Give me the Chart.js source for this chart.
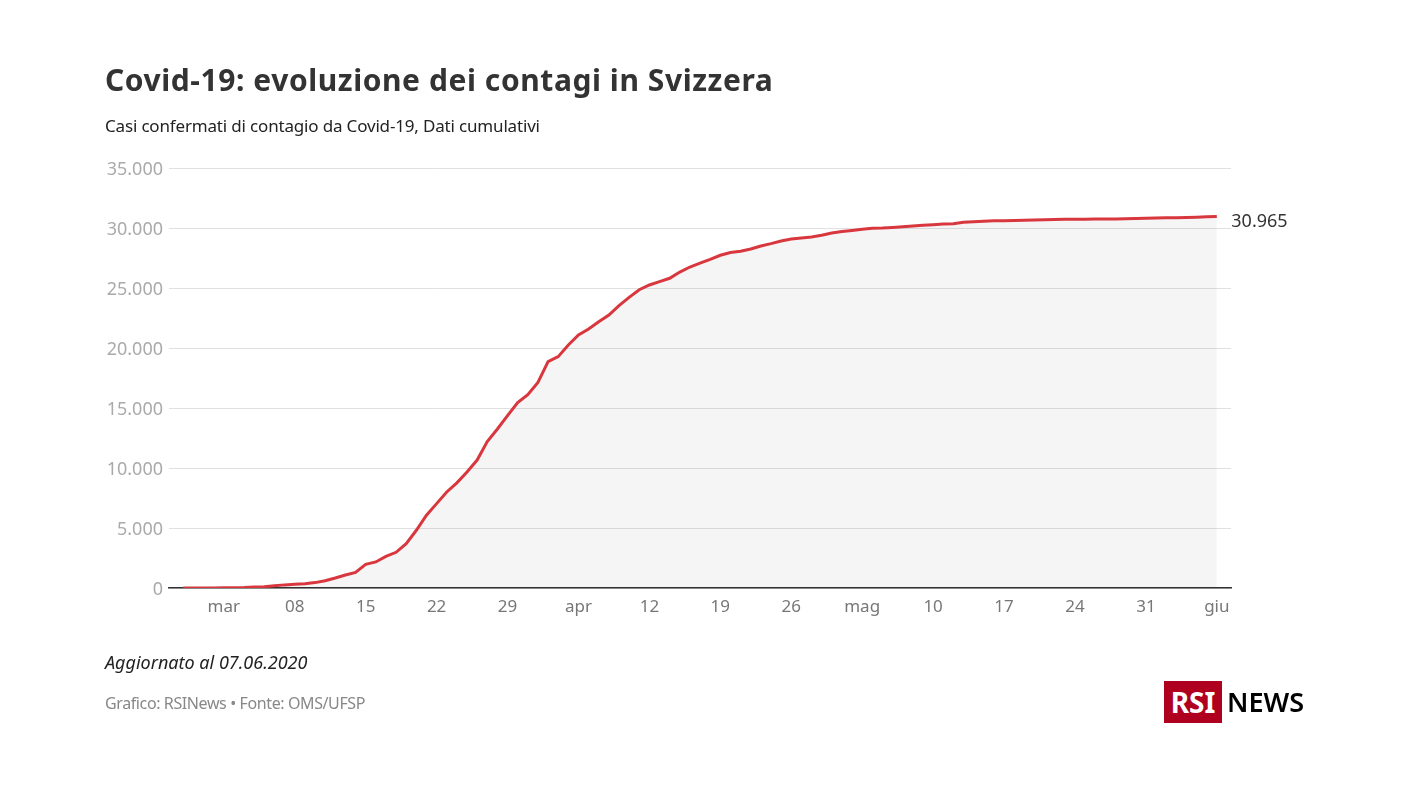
<!DOCTYPE html>
<html lang="it">
<head>
<meta charset="utf-8">
<title>Covid-19: evoluzione dei contagi in Svizzera</title>
<script src="https://cdn.jsdelivr.net/npm/chart.js@4"></script>
<style>
  html, body { margin:0; padding:0; background:#fff; width:1408px; height:792px; overflow:hidden; font-family:"Noto Sans",sans-serif; }
  #wrap { position:absolute; left:0; top:0; width:1408px; height:792px; }
  canvas { position:absolute; left:0; top:0; }
  .t { position:absolute; white-space:nowrap; }
  #title { left:105px; top:60px; line-height:40px; font-size:30px; font-weight:700; color:#333; letter-spacing:0.57px; }
  #sub { left:105px; top:114px; line-height:24px; font-size:17px; color:#222; letter-spacing:-0.17px; }
  #upd { left:105px; top:650px; line-height:24px; font-size:18px; font-style:italic; color:#222; }
  #src { left:105px; top:691px; line-height:24px; font-size:16px; color:#888; letter-spacing:-0.39px; }
  #logo { position:absolute; left:1164px; top:681px; width:58px; height:42px; background:#b0001f; color:#fff; font-size:28px; font-weight:700; line-height:42px; text-align:center; }
  #news { left:1227px; top:681px; line-height:42px; font-size:27px; font-weight:600; color:#000; }
</style>
</head>
<body>
<div id="wrap">
  <canvas id="c" width="1408" height="792"></canvas>
  <div class="t" id="title">Covid-19: evoluzione dei contagi in Svizzera</div>
  <div class="t" id="sub">Casi confermati di contagio da Covid-19, Dati cumulativi</div>
  <div class="t" id="upd">Aggiornato al 07.06.2020</div>
  <div class="t" id="src">Grafico: RSINews • Fonte: OMS/UFSP</div>
  <div id="logo">RSI</div>
  <div class="t" id="news">NEWS</div>
</div>
<script>
const cases = [
  1,1,8,8,18,24,42,85,110,190,260,310,
  360,450,610,830,1080,1300,
  1975,2170,2640,2975,3700,4810,6060,7030,8000,8760,9670,10660,
  12200,13250,14360,15450,16110,17130,18860,19280,20250,21080,
  21580,22190,22750,23530,24220,24860,25250,25530,25810,26330,
  26750,27080,27390,27730,27950,28060,28250,28500,28700,28920,
  29080,29170,29250,29390,29580,29700,29800,29890,29970,30000,
  30050,30110,30170,30220,30280,30330,30360,30470,30530,30570,
  30600,30610,30620,30640,30660,30680,30700,30720,30730,30735,
  30740,30745,30755,30775,30795,30820,30835,30850,30860,30875,
  30905,30935,30965
];
const xTickDays = [4,11,18,25,32,39,46,53,60,67,74,81,88,95,102];
const xTickLabels = ["mar","08","15","22","29","apr","12","19","26","mag","10","17","24","31","giu"];
const yTicksMax = 35000;
const yTickStep = 5000;
const lastLabel = "30.965";

const points = cases.map((v,i)=>({x:i,y:v}));
const fmt = v => String(v).replace(/\B(?=(\d{3})+$)/g,".");

const endLabel = {
  id:"endLabel",
  afterDatasetsDraw(chart){
    const {ctx,scales:{x,y}} = chart;
    const i = cases.length-1;
    ctx.save();
    ctx.font = '18px "Noto Sans"';
    ctx.fillStyle = "#333";
    ctx.textAlign = "left";
    ctx.textBaseline = "middle";
    ctx.fillText(lastLabel, x.getPixelForValue(i)+14.5, y.getPixelForValue(cases[i])+5);
    ctx.restore();
  }
};

new Chart(document.getElementById("c"),{
  type:"line",
  data:{datasets:[{
    data:points,
    borderColor:"#d8373e",
    borderWidth:3,
    borderCapStyle:"butt",
    backgroundColor:"rgba(0,0,0,0.04)",
    fill:"origin",
    pointRadius:0,
    tension:0
  }]},
  options:{
    responsive:false,
    animation:false,
    events:[],
    layout:{padding:{left:0,right:177,top:168,bottom:104}},
    plugins:{legend:{display:false},tooltip:{enabled:false},title:{display:false}},
    scales:{
      x:{
        type:"linear",
        min:-1.41,
        max:103.4,
        afterBuildTicks(s){ s.ticks = xTickDays.map(v=>({value:v})); },
        afterFit(s){ s.height = 100; },
        grid:{display:false,drawTicks:false},
        border:{display:true,color:"#333",width:1.5},
        ticks:{
          autoSkip:false,maxRotation:0,minRotation:0,padding:9,
          color:"#777",font:{family:"Noto Sans",size:17},
          callback(v){ const k=xTickDays.indexOf(v); return k<0?"":xTickLabels[k]; }
        }
      },
      y:{
        min:0,max:yTicksMax,
        afterFit(s){ s.width = 169; },
        grid:{color:"#e0e0e0",lineWidth:1,drawTicks:false},
        border:{display:false},
        ticks:{
          stepSize:yTickStep,padding:6,labelOffset:1.5,
          color:"#aaa",font:{family:"Noto Sans",size:18},
          callback(v){ return fmt(v); }
        }
      }
    }
  },
  plugins:[endLabel]
});
</script>
</body>
</html>
